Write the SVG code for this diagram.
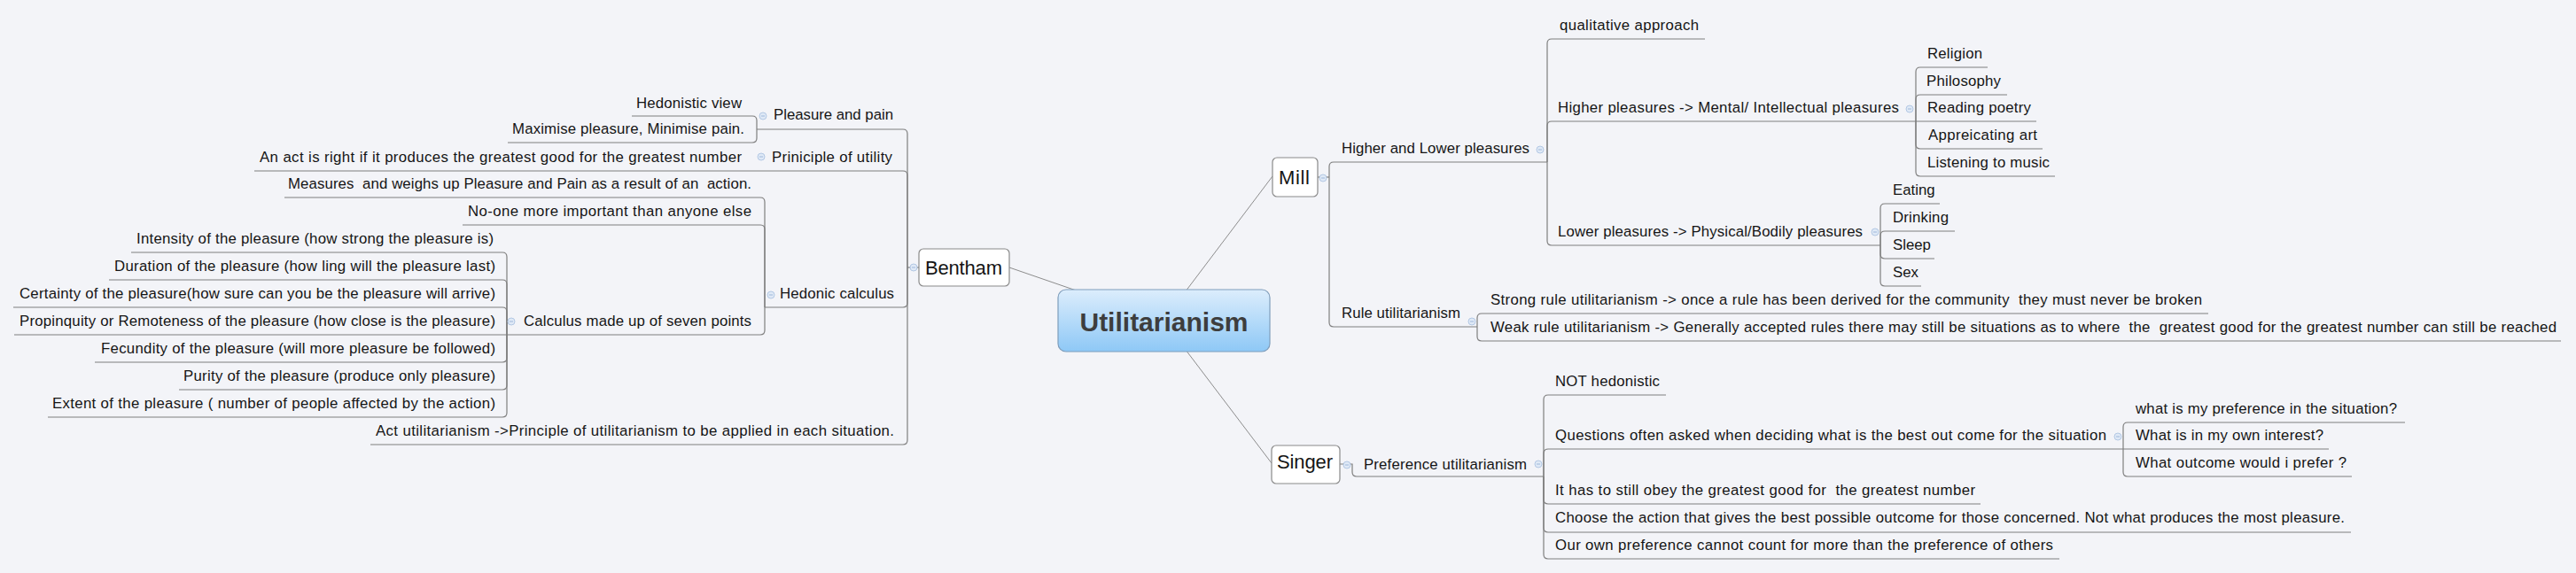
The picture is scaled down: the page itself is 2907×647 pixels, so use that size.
<svg xmlns="http://www.w3.org/2000/svg" xmlns:xlink="http://www.w3.org/1999/xlink" width="2907" height="647" viewBox="0 0 2907 647">
<style>
.t{font-family:"Liberation Sans",Arial,sans-serif;font-size:16.8px;fill:#151515}
.m{font-size:22px}
.c{font-family:"Liberation Sans",Arial,sans-serif;font-size:30px;font-weight:bold;fill:#3d3d3d}
.ln{fill:none;stroke:#7f7f7f;stroke-width:1.2}
.box{fill:#ffffff;stroke:#8a8a8a;stroke-width:1.2}
.cl{fill:none;stroke:#8c8c8c;stroke-width:1}
</style>
<defs>
<linearGradient id="cg" x1="0" y1="0" x2="0" y2="1">
<stop offset="0" stop-color="#dcedfc"/>
<stop offset="1" stop-color="#8ec8f6"/>
</linearGradient>
<g id="cb"><circle r="4" fill="#dfe9f6" stroke="#b3c8e4" stroke-width="1"/><line x1="-2" y1="0" x2="2" y2="0" stroke="#9fb8da" stroke-width="1"/></g>
</defs>
<rect x="0" y="0" width="2907" height="647" fill="#f3f4f8"/>
<g id="connectors">
<line class="cl" x1="1313" y1="362" x2="1139" y2="302"/>
<line class="cl" x1="1313" y1="362" x2="1436" y2="199"/>
<line class="cl" x1="1313" y1="362" x2="1435" y2="523"/>
<path class="ln" d="M1037 302H1024"/>
<path class="ln" d="M1024 302V151Q1024 146 1019 146H854"/>
<path class="ln" d="M1024 302V198Q1024 193 1019 193H854"/>
<path class="ln" d="M1024 302V342Q1024 347 1019 347H863"/>
<path class="ln" d="M1024 302V497Q1024 502 1019 502H418"/>
<path class="ln" d="M854 146V136Q854 131 849 131H713"/>
<path class="ln" d="M854 146V156Q854 161 849 161H573"/>
<path class="ln" d="M854 193H287"/>
<path class="ln" d="M863 347V228Q863 223 858 223H321"/>
<path class="ln" d="M863 347V259Q863 254 858 254H522"/>
<path class="ln" d="M863 347V373Q863 378 858 378H572"/>
<path class="ln" d="M572 378V290Q572 285 567 285H148"/>
<path class="ln" d="M572 378V321Q572 316 567 316H123"/>
<path class="ln" d="M572 378V352Q572 347 567 347H15"/>
<path class="ln" d="M572 378H16"/>
<path class="ln" d="M572 378V404Q572 409 567 409H107"/>
<path class="ln" d="M572 378V435Q572 440 567 440H202"/>
<path class="ln" d="M572 378V466Q572 471 567 471H54"/>
<path class="ln" d="M1487 200H1500"/>
<path class="ln" d="M1500 200V188Q1500 183 1505 183H1746"/>
<path class="ln" d="M1500 200V364Q1500 369 1505 369H1667"/>
<path class="ln" d="M1746 183V49Q1746 44 1751 44H1924"/>
<path class="ln" d="M1746 183V142Q1746 137 1751 137H2162"/>
<path class="ln" d="M1746 183V272Q1746 277 1751 277H2122"/>
<path class="ln" d="M2162 137V81Q2162 76 2167 76H2243"/>
<path class="ln" d="M2162 137V112Q2162 107 2167 107H2265"/>
<path class="ln" d="M2162 137H2298"/>
<path class="ln" d="M2162 137V163Q2162 168 2167 168H2305"/>
<path class="ln" d="M2162 137V194Q2162 199 2167 199H2319"/>
<path class="ln" d="M2122 277V235Q2122 230 2127 230H2189"/>
<path class="ln" d="M2122 277V266Q2122 261 2127 261H2206"/>
<path class="ln" d="M2122 277V287Q2122 292 2127 292H2183"/>
<path class="ln" d="M2122 277V318Q2122 323 2127 323H2168"/>
<path class="ln" d="M1667 369V359Q1667 354 1672 354H2492"/>
<path class="ln" d="M1667 369V380Q1667 385 1672 385H2890"/>
<path class="ln" d="M1512 524H1526V533Q1526 538 1531 538H1742"/>
<path class="ln" d="M1742 538V451Q1742 446 1747 446H1880"/>
<path class="ln" d="M1742 538V512Q1742 507 1747 507H2396"/>
<path class="ln" d="M1742 538V564Q1742 569 1747 569H2235"/>
<path class="ln" d="M1742 538V596Q1742 601 1747 601H2653"/>
<path class="ln" d="M1742 538V626Q1742 631 1747 631H2324"/>
<path class="ln" d="M2396 507V482Q2396 477 2401 477H2714"/>
<path class="ln" d="M2396 507H2628"/>
<path class="ln" d="M2396 507V533Q2396 538 2401 538H2654"/>
</g>
<g id="collapse">
<use xlink:href="#cb" x="1031" y="302"/>
<use xlink:href="#cb" x="861" y="131"/>
<use xlink:href="#cb" x="859" y="177"/>
<use xlink:href="#cb" x="870" y="333"/>
<use xlink:href="#cb" x="577" y="363"/>
<use xlink:href="#cb" x="1493" y="201"/>
<use xlink:href="#cb" x="1738" y="169"/>
<use xlink:href="#cb" x="2155" y="123"/>
<use xlink:href="#cb" x="2116" y="262"/>
<use xlink:href="#cb" x="1661" y="363"/>
<use xlink:href="#cb" x="1520" y="525"/>
<use xlink:href="#cb" x="1736" y="524"/>
<use xlink:href="#cb" x="2390" y="493"/>
</g>
<g id="central">
<rect x="1194" y="327" width="239" height="70" rx="9" fill="url(#cg)" stroke="#7f9dbb" stroke-width="1.2"/>
<text class="c" x="1313.5" y="374" text-anchor="middle">Utilitarianism</text>
</g>
<g id="bentham">
<rect class="box" x="1037" y="281" width="102" height="42" rx="5"/>
<text class="t m" x="1044" y="310" textLength="87">Bentham</text>
</g>
<g id="mill">
<rect class="box" x="1436" y="178" width="51" height="44" rx="5"/>
<text class="t m" x="1443" y="208" textLength="35">Mill</text>
</g>
<g id="singer">
<rect class="box" x="1435" y="503" width="77" height="43" rx="5"/>
<text class="t m" x="1441" y="529" textLength="63">Singer</text>
</g>
<g id="pleasure-and-pain"><text class="t" x="873" y="135" textLength="135">Pleasure and pain</text></g>
<g id="hedonistic-view"><text class="t" x="718" y="122" textLength="119">Hedonistic view</text></g>
<g id="maximise"><text class="t" x="578" y="151" textLength="262">Maximise pleasure, Minimise pain.</text></g>
<g id="principle-of-utility"><text class="t" x="871" y="183" textLength="136">Priniciple of utility</text></g>
<g id="act-is-right"><text class="t" x="293" y="183" textLength="544">An act is right if it produces the greatest good for the greatest number</text></g>
<g id="hedonic-calculus"><text class="t" x="880" y="337" textLength="129">Hedonic calculus</text></g>
<g id="measures"><text class="t" x="325" y="213" textLength="523" xml:space="preserve">Measures  and weighs up Pleasure and Pain as a result of an  action.</text></g>
<g id="no-one"><text class="t" x="528" y="244" textLength="320">No-one more important than anyone else</text></g>
<g id="seven-points"><text class="t" x="591" y="368" textLength="257">Calculus made up of seven points</text></g>
<g id="intensity"><text class="t" x="154" y="275" textLength="403">Intensity of the pleasure (how strong the pleasure is)</text></g>
<g id="duration"><text class="t" x="129" y="306" textLength="430">Duration of the pleasure (how ling will the pleasure last)</text></g>
<g id="certainty"><text class="t" x="22" y="337" textLength="537">Certainty of the pleasure(how sure can you be the pleasure will arrive)</text></g>
<g id="propinquity"><text class="t" x="22" y="368" textLength="537">Propinquity or Remoteness of the pleasure (how close is the pleasure)</text></g>
<g id="fecundity"><text class="t" x="114" y="399" textLength="445">Fecundity of the pleasure (will more pleasure be followed)</text></g>
<g id="purity"><text class="t" x="207" y="430" textLength="352">Purity of the pleasure (produce only pleasure)</text></g>
<g id="extent"><text class="t" x="59" y="461" textLength="500">Extent of the pleasure ( number of people affected by the action)</text></g>
<g id="act-utilitarianism"><text class="t" x="424" y="492" textLength="585">Act utilitarianism -&gt;Principle of utilitarianism to be applied in each situation.</text></g>
<g id="higher-lower"><text class="t" x="1514" y="173" textLength="212">Higher and Lower pleasures</text></g>
<g id="qualitative"><text class="t" x="1760" y="34" textLength="157">qualitative approach</text></g>
<g id="higher-pleasures"><text class="t" x="1758" y="127" textLength="385">Higher pleasures -&gt; Mental/ Intellectual pleasures</text></g>
<g id="religion"><text class="t" x="2175" y="66" textLength="62">Religion</text></g>
<g id="philosophy"><text class="t" x="2174" y="97" textLength="84">Philosophy</text></g>
<g id="reading-poetry"><text class="t" x="2175" y="127" textLength="117">Reading poetry</text></g>
<g id="art"><text class="t" x="2176" y="158" textLength="123">Appreicating art</text></g>
<g id="music"><text class="t" x="2175" y="189" textLength="138">Listening to music</text></g>
<g id="lower-pleasures"><text class="t" x="1758" y="267" textLength="344">Lower pleasures -&gt; Physical/Bodily pleasures</text></g>
<g id="eating"><text class="t" x="2136" y="220">Eating</text></g>
<g id="drinking"><text class="t" x="2136" y="251" textLength="63">Drinking</text></g>
<g id="sleep"><text class="t" x="2136" y="282">Sleep</text></g>
<g id="sex"><text class="t" x="2136" y="313">Sex</text></g>
<g id="rule-utilitarianism"><text class="t" x="1514" y="359" textLength="134">Rule utilitarianism</text></g>
<g id="strong-rule"><text class="t" x="1682" y="344" textLength="803" xml:space="preserve">Strong rule utilitarianism -&gt; once a rule has been derived for the community  they must never be broken</text></g>
<g id="weak-rule"><text class="t" x="1682" y="375" textLength="1203" xml:space="preserve">Weak rule utilitarianism -&gt; Generally accepted rules there may still be situations as to where  the  greatest good for the greatest number can still be reached</text></g>
<g id="preference-utilitarianism"><text class="t" x="1539" y="530" textLength="184">Preference utilitarianism</text></g>
<g id="not-hedonistic"><text class="t" x="1755" y="436" textLength="118">NOT hedonistic</text></g>
<g id="questions"><text class="t" x="1755" y="497" textLength="622">Questions often asked when deciding what is the best out come for the situation</text></g>
<g id="q1"><text class="t" x="2410" y="467" textLength="295">what is my preference in the situation?</text></g>
<g id="q2"><text class="t" x="2410" y="497" textLength="212">What is in my own interest?</text></g>
<g id="q3"><text class="t" x="2410" y="528" textLength="238">What outcome would i prefer ?</text></g>
<g id="obey"><text class="t" x="1755" y="559" textLength="474" xml:space="preserve">It has to still obey the greatest good for  the greatest number</text></g>
<g id="choose"><text class="t" x="1755" y="590" textLength="891">Choose the action that gives the best possible outcome for those concerned. Not what produces the most pleasure.</text></g>
<g id="own-preference"><text class="t" x="1755" y="621" textLength="562">Our own preference cannot count for more than the preference of others</text></g>
</svg>
